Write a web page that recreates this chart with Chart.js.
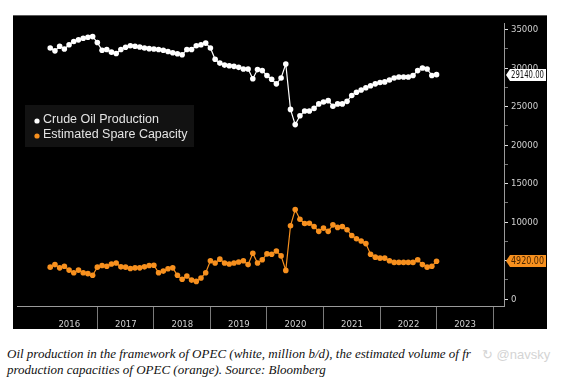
<!DOCTYPE html>
<html>
<head>
<meta charset="utf-8">
<script src="https://cdn.jsdelivr.net/npm/chart.js@4/dist/chart.umd.min.js"></script>
<style>
  body { margin: 0; background: #fff; width: 563px; height: 382px; position: relative; overflow: hidden; }
  #box { position: absolute; left: 13px; top: 15px; width: 534px; height: 314px; background: #000; }
  #caption { position: absolute; left: 7px; top: 346px; font: italic 13px 'Liberation Serif', 'Times New Roman', serif;
             line-height: 16px; color: #111; white-space: nowrap; }
  #mark { position: absolute; left: 482px; top: 347px; font: 13px 'Liberation Sans', sans-serif; color: #d4d4d4; }
</style>
</head>
<body>
<div id="box"><canvas id="oilChart" width="534" height="314"></canvas></div>
<div id="caption">Oil production in the framework of OPEC (white, million b/d), the estimated volume of fr<br>production capacities of OPEC (orange). Source: Bloomberg</div>
<div id="mark">&#x21BB; @navsky</div>
<script>
// monthly series, Feb 2016 .. Dec 2022 (thousand b/d)
const firstMonth = { year: 2016, month: 2 };
const crudeOil = [
  32610, 32230, 32820, 32480, 33030, 33450, 33660, 33870, 33990, 34080,
  33320, 32310, 32400, 32060, 31890, 32400, 32690, 32900, 32820, 32730,
  32610, 32520, 32480, 32400, 32310, 32150, 31980, 31850, 31730, 32400,
  32400, 32900, 33030, 33240, 32610, 31140, 30640, 30380, 30300, 30220,
  30090, 29880, 29880, 28620, 29800, 29670, 29040, 28540, 27950, 28700,
  30510, 24630, 22660, 23800, 24420, 24420, 24760, 25350, 25600, 25770,
  25050, 25350, 25350, 25680, 26440, 26860, 27150, 27450, 27700, 27950,
  28120, 28200, 28450, 28700, 28830, 28830, 28830, 29040, 29670, 30010,
  29880, 29040, 29140
];
const spareCapacity = [
  4160, 4490, 4070, 4280, 3780, 3440, 3780, 3440, 3320, 3110,
  4160, 4370, 4280, 4570, 4700, 4200, 4160, 3990, 4070, 4070,
  4200, 4370, 4410, 3440, 3650, 3950, 4070, 3110, 2600, 3020,
  2480, 2310, 2750, 3440, 4990, 4700, 5200, 4700, 4570, 4700,
  4830, 4990, 4490, 5960, 4700, 5120, 5880, 5830, 6250, 5620,
  3740, 9530, 11630, 10370, 9820, 9860, 9440, 8810, 9230, 8810,
  9650, 9320, 9440, 9020, 8270, 7850, 7550, 7220, 5830, 5460,
  5330, 5330, 4990, 4780, 4780, 4780, 4780, 4780, 5120, 4490,
  4160, 4280, 4920
];
const yearTicks = [2016, 2017, 2018, 2019, 2020, 2021, 2022, 2023, 2024];
const yearLabels = ['2016', '2017', '2018', '2019', '2020', '2021', '2022', '2023', ''];
const yTicks = [0, 2500, 5000, 7500, 10000, 12500, 15000, 17500, 20000, 22500, 25000, 27500, 30000, 32500, 35000];

const WHITE = '#ffffff';
const ORANGE = '#f7901e';
const axisFont = { family: "'Liberation Sans Narrow', 'DejaVu Sans Condensed', sans-serif", size: 9.5 };

// month-end dates as decimal years
const monthPos = crudeOil.map(function(_, i) {
    const m = firstMonth.month - 1 + i;
    return firstMonth.year + Math.floor(m / 12) + ((m % 12) + 1) / 12;
});

function toPoints(values) {
    return values.map((v, i) => ({ x: monthPos[i], y: v }));
}

// legend box drawn inside the plot
const legendBox = {
    id: 'legendBox',
    afterDraw(chart) {
        const ctx = chart.ctx;
        ctx.save();
        ctx.fillStyle = '#121212';
        ctx.fillRect(12, 90, 169, 42);
        ctx.font = "12.5px 'Liberation Sans', sans-serif";
        ctx.textBaseline = 'middle';
        chart.data.datasets.forEach(function(ds, i) {
            const y = 105 + i * 15;
            ctx.fillStyle = ds.borderColor;
            ctx.beginPath();
            ctx.arc(24, y + 1, 2.6, 0, Math.PI * 2);
            ctx.fill();
            ctx.fillStyle = '#e4e4e4';
            ctx.fillText(ds.label, 30, y, 146);
        });
        ctx.restore();
    }
};

// last-value tags on the right axis
const lastValueTags = {
    id: 'lastValueTags',
    afterDraw(chart) {
        const ctx = chart.ctx;
        const yScale = chart.scales.y;
        const left = chart.chartArea.right + 2;
        const right = chart.width - 1;
        ctx.save();
        // top frame line
        ctx.strokeStyle = '#5a5a5a';
        ctx.lineWidth = 1;
        ctx.beginPath();
        ctx.moveTo(0, 0.5);
        ctx.lineTo(chart.width, 0.5);
        ctx.stroke();
        ctx.font = "10px 'Liberation Sans Narrow', 'DejaVu Sans Condensed', sans-serif";
        ctx.textBaseline = 'middle';
        chart.data.datasets.forEach(function(ds) {
            const last = ds.data[ds.data.length - 1].y;
            const y = Math.round(yScale.getPixelForValue(last));
            ctx.fillStyle = ds.borderColor;
            ctx.beginPath();
            ctx.moveTo(left, y);
            ctx.lineTo(left + 4, y - 6);
            ctx.lineTo(right, y - 6);
            ctx.lineTo(right, y + 6);
            ctx.lineTo(left + 4, y + 6);
            ctx.closePath();
            ctx.fill();
            ctx.fillStyle = ds.borderColor === WHITE ? '#111' : '#4a2600';
            ctx.fillText(last.toFixed(2), left + 5, y + 0.5, right - left - 7);
        });
        ctx.restore();
    }
};

new Chart(document.getElementById('oilChart').getContext('2d'), {
    type: 'line',
    data: {
        datasets: [{
            label: 'Crude Oil Production',
            data: toPoints(crudeOil),
            borderColor: WHITE,
            backgroundColor: WHITE,
            borderWidth: 1.2,
            pointRadius: 2.8,
            pointBorderWidth: 0,
            tension: 0
        }, {
            label: 'Estimated Spare Capacity',
            data: toPoints(spareCapacity),
            borderColor: ORANGE,
            backgroundColor: ORANGE,
            borderWidth: 1.2,
            pointRadius: 2.8,
            pointBorderWidth: 0,
            tension: 0
        }]
    },
    options: {
        responsive: false,
        animation: false,
        layout: { padding: 0 },
        plugins: {
            legend: { display: false },
            tooltip: { enabled: false }
        },
        scales: {
            x: {
                type: 'linear',
                min: 2015.579,
                max: 2024.193,
                afterBuildTicks: s => { s.ticks = yearTicks.map(v => ({ value: v })); },
                afterFit: s => { s.height = 23; },
                border: { display: true, color: '#9a9a9a' },
                grid: {
                    drawOnChartArea: false,
                    drawTicks: true,
                    tickLength: 23,
                    color: c => (c.tick && c.tick.value === 2016) ? 'rgba(0,0,0,0)' : '#7a7a7a'
                },
                ticks: {
                    autoSkip: false,
                    maxRotation: 0,
                    labelOffset: 28.5,
                    padding: -10,
                    color: '#d0d0d0',
                    font: axisFont,
                    callback: v => yearLabels[yearTicks.indexOf(v)]
                }
            },
            y: {
                position: 'right',
                min: -881,
                max: 35755,
                afterBuildTicks: s => { s.ticks = yTicks.map(v => ({ value: v })); },
                afterFit: s => { s.width = 43; },
                border: { display: true, color: '#9a9a9a' },
                grid: {
                    drawOnChartArea: false,
                    drawTicks: true,
                    tickLength: 4,
                    color: c => (c.tick && c.tick.value % 5000 === 0) ? '#e0e0e0' : '#777'
                },
                ticks: {
                    padding: 3,
                    color: '#d0d0d0',
                    font: axisFont,
                    callback: v => (v % 5000 === 0 ? String(v) : '')
                }
            }
        }
    },
    plugins: [legendBox, lastValueTags]
});
</script>
</body>
</html>
